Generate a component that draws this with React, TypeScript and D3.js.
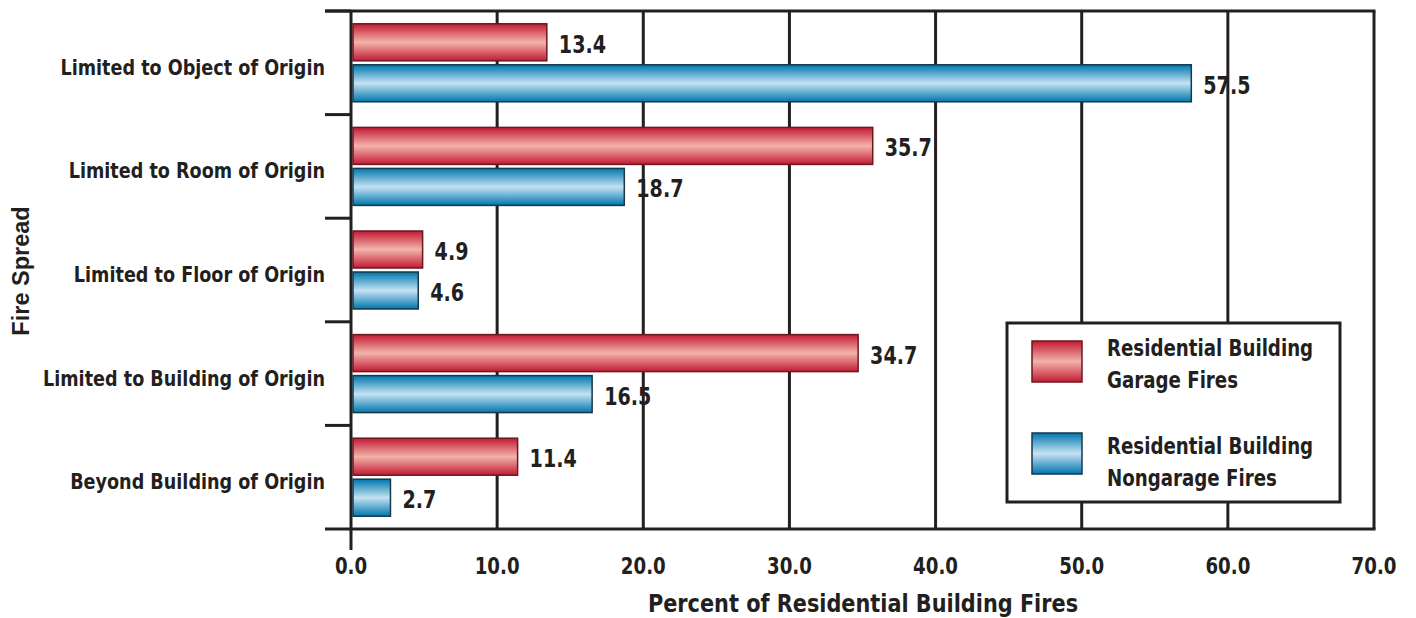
import React from "react";
import * as d3 from "d3";

const categories = [
  "Limited to Object of Origin",
  "Limited to Room of Origin",
  "Limited to Floor of Origin",
  "Limited to Building of Origin",
  "Beyond Building of Origin",
];
const garage = [13.4, 35.7, 4.9, 34.7, 11.4];
const nongarage = [57.5, 18.7, 4.6, 16.5, 2.7];
const xTicks = [0, 10, 20, 30, 40, 50, 60, 70];
const seriesNames = [
  ["Residential Building", "Garage Fires"],
  ["Residential Building", "Nongarage Fires"],
];

const W = 1416;
const H = 618;
const left = 351;
const right = 1374;
const top = 11;
const bottom = 529;
const FONT = "'DejaVu Sans Condensed', 'DejaVu Sans', sans-serif";
const TXT = "#231f20";

function T({ x, y, sx = 1, anchor = "start", size, children }: any) {
  return (
    <g transform={`translate(${x},${y}) scale(${sx},1)`}>
      <text x={0} y={0} textAnchor={anchor} fontFamily={FONT} fontWeight="bold" fontStretch="condensed" fontSize={size} fill={TXT}>
        {children}
      </text>
    </g>
  );
}

export default function App() {
  const x = d3.scaleLinear().domain([0, 70]).range([left, right]);
  const y = d3.scaleBand<string>().domain(categories).range([top, bottom]);
  const bw = y.bandwidth();
  const barH = 37;
  const gap = 4;
  const padTop = (bw - 2 * barH - gap) / 2;

  const series = [
    { vals: garage, fill: "url(#gRed)", stroke: "#6a1822" },
    { vals: nongarage, fill: "url(#gBlue)", stroke: "#18384a" },
  ];

  return (
    <svg width={W} height={H} style={{ position: "absolute", left: 0, top: 0, background: "#fff" }}>
      <defs>
        <linearGradient id="gRed" x1="0" y1="0" x2="0" y2="1">
          <stop offset="0" stopColor="#c31a33" />
          <stop offset="0.5" stopColor="#f2b3ab" />
          <stop offset="1" stopColor="#c31a33" />
        </linearGradient>
        <linearGradient id="gBlue" x1="0" y1="0" x2="0" y2="1">
          <stop offset="0" stopColor="#0076ae" />
          <stop offset="0.5" stopColor="#c4e2f2" />
          <stop offset="1" stopColor="#0076ae" />
        </linearGradient>
      </defs>

      {xTicks.slice(1).map((t) => (
        <line key={"g" + t} x1={x(t)} x2={x(t)} y1={top} y2={bottom} stroke={TXT} strokeWidth={3} />
      ))}
      <line x1={325} x2={right + 1.5} y1={top} y2={top} stroke={TXT} strokeWidth={3} />
      <line x1={325} x2={right + 1.5} y1={bottom} y2={bottom} stroke={TXT} strokeWidth={3} />
      <line x1={left} x2={left} y1={top} y2={bottom + 21} stroke={TXT} strokeWidth={3} />
      {categories.map((c) => (
        <line key={"t" + c} x1={325} x2={left} y1={y(c) as number} y2={y(c) as number} stroke={TXT} strokeWidth={3} />
      ))}

      {categories.map((c, i) =>
        series.map((s, j) => {
          const by = (y(c) as number) + padTop + j * (barH + gap);
          const v = s.vals[i];
          return (
            <g key={c + j}>
              <rect x={x(0) + 2} y={by} width={x(v) - x(0) - 2} height={barH} fill={s.fill} stroke={s.stroke} strokeWidth={1.5} />
              <T x={x(v) + 12} y={by + barH / 2 + 10.5} sx={0.85} size={25}>
                {v.toFixed(1)}
              </T>
            </g>
          );
        })
      )}

      {categories.map((c) => (
        <T key={"l" + c} x={325} y={(y(c) as number) + bw / 2 + 12} anchor="end" sx={0.89} size={22}>
          {c}
        </T>
      ))}

      {xTicks.map((t) => (
        <T key={"x" + t} x={x(t)} y={574} anchor="middle" sx={0.88} size={23}>
          {t.toFixed(1)}
        </T>
      ))}

      <T x={863} y={612} anchor="middle" sx={0.965} size={24}>
        Percent of Residential Building Fires
      </T>
      <text transform={`translate(29,271) rotate(-90)`} textAnchor="middle" fontFamily="'Liberation Sans', Arial, sans-serif" fontWeight="bold" fontSize={23.5} fill={TXT}>
        Fire Spread
      </text>

      <rect x={1007} y={323} width={333} height={179} fill="#fff" stroke={TXT} strokeWidth={3} />
      {series.map((s, j) => (
        <g key={"lg" + j}>
          <rect x={1032} y={341 + j * 92} width={50} height={41} fill={s.fill} stroke={s.stroke} strokeWidth={1.5} />
          {seriesNames[j].map((ln, k) => (
            <T key={k} x={1107} y={356 + j * 98 + k * 31.5} sx={0.88} size={23}>
              {ln}
            </T>
          ))}
        </g>
      ))}
    </svg>
  );
}
